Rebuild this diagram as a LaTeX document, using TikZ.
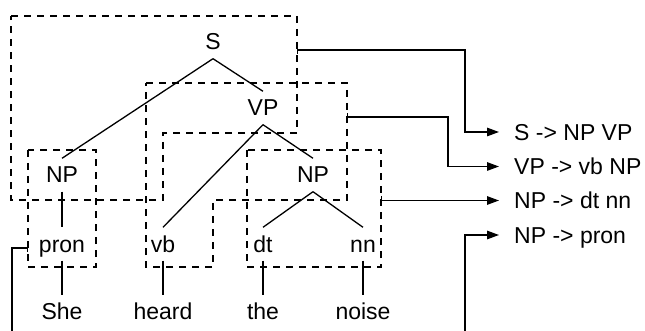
\documentclass[tikz,border=0pt]{standalone}
\usepackage{fontspec}
\setmainfont{Liberation Sans}
\usetikzlibrary{arrows.meta,positioning}
\tikzset{
  tag/.style    ={inner xsep=0pt,inner ysep=3.5pt,text height=21pt,text depth=5pt},
  word/.style   ={tag},
  rulebox/.style={draw,line width=1.3pt,dash pattern=on 7pt off 6pt},
  branch/.style ={draw,line width=1.3pt},
  rule/.style   ={anchor=west,inner xsep=15pt,inner ysep=0pt,text height=16.5pt,
                  text depth=0pt},
  feed/.style   ={{Bar[width=8pt]}-{Triangle[length=12pt,width=8.5pt]},line width=1.3pt}
}
\begin{document}
\begin{tikzpicture}[x=1pt,y=-1pt,every node/.style={font=\fontsize{23}{27}\selectfont}]
        \useasboundingbox (0,0) rectangle (645,331);
        \clip (0,0) rectangle (645,331);
        \draw[rulebox] (11,16) -- (297,16) -- (297,133) -- (163,133) -- (163,200) -- (11,200) -- cycle;
        \draw[rulebox] (146,83) -- (347,83) -- (347,200) -- (213,200) -- (213,267) -- (146,267) -- cycle;
        \draw[rulebox] (247,150) rectangle (381,267);
        \draw[rulebox] (28,150) rectangle (96,267);
        \coordinate (sout) at (297,50);
        \coordinate (vpout) at (347,117);
        \coordinate (np2out) at (381,200.5);
        \coordinate (np1out) at (28,248);
        \node[tag] (s)    at (213,42)  {S};
        \node[tag] (vp)   at (263,108) {VP};
        \node[tag] (np1)  at (62,175)  {NP};
        \node[tag] (np2)  at (313,175) {NP};
        \node[tag] (pron) at (62,244)  {pron};
        \node[tag] (vb)   at (163,244) {vb};
        \node[tag] (dt)   at (263,244) {dt};
        \node[tag] (nn)   at (363,244) {nn};
        \node[word,below=34pt of pron] (she)   {She};
        \node[word,below=34pt of vb]   (heard) {heard};
        \node[word,below=34pt of dt]   (the)   {the};
        \node[word,below=34pt of nn]   (noise) {noise};
        \draw[branch] (s.south) -- (np1.north); \draw[branch] (s.south) -- (vp.north);
        \draw[branch] (vp.south) -- (vb.north); \draw[branch] (vp.south) -- (np2.north);
        \draw[branch] (np1.south) -- (pron.north);
        \draw[branch] (np2.south) -- (dt.north); \draw[branch] (np2.south) -- (nn.north);
        \draw[branch] (pron) -- (she); \draw[branch] (vb) -- (heard);
        \draw[branch] (dt) -- (the); \draw[branch] (nn) -- (noise);
        \node[rule] (rs)   at (499,132)   {S -> NP VP};
        \node[rule] (rvp)  at (499,166.5) {VP -> vb NP};
        \node[rule] (rnp2) at (499,200.5) {NP -> dt nn};
        \node[rule] (rnp1) at (499,235)   {NP -> pron};
        \draw[feed] (sout) -- ++(168,0) |- (rs.west);
        \draw[feed] (vpout) -- ++(101,0) |- (rvp.west);
        \draw[feed] (np2out) -- (rnp2.west);
        \draw[feed] (np1out) -- ++(-16,0) -- ++(0,100) -- ++(453,0) |- (rnp1.west);
      \end{tikzpicture}
\end{document}
